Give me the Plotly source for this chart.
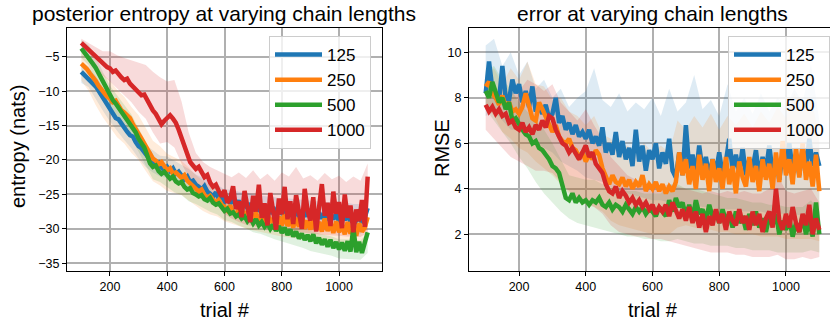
import plotly.graph_objects as go

# ---------------- data ----------------
trials = list(range(100, 1101, 10))          # 101 points
band_trials = list(range(100, 1101, 25))     # 41 points
chain_lengths = ["125", "250", "500", "1000"]
colors = ["#1f77b4", "#ff7f0e", "#2ca02c", "#d62728"]
band_colors = ["rgba(31,119,180,0.15)", "rgba(255,127,14,0.15)",
               "rgba(44,160,44,0.15)", "rgba(214,39,40,0.17)"]

# ---- entropy (left) ----
ent_125 = [-7.2,-7.6,-7.9,-8.4,-8.8,-9.3,-9.9,-10.6,-11.3,-12.0,
           -12.6,-13.3,-13.9,-14.1,-14.8,-15.3,-15.9,-16.4,-16.6,-17.4,
           -18.0,-18.3,-18.9,-19.4,-19.2,-20.1,-20.6,-20.4,-21.1,-21.5,
           -21.0,-21.6,-21.2,-22.0,-21.7,-22.3,-22.8,-22.4,-23.2,-23.0,
           -23.6,-23.9,-24.3,-23.8,-24.6,-24.9,-25.3,-24.7,-25.6,-25.2,
           -26.0,-25.4,-26.3,-25.7,-26.6,-25.9,-26.8,-26.1,-27.0,-26.3,
           -27.2,-26.4,-27.5,-26.6,-27.4,-26.7,-27.8,-26.9,-27.6,-26.8,
           -27.9,-27.0,-28.1,-27.1,-28.0,-27.2,-28.3,-27.3,-28.2,-27.4,
           -28.4,-27.5,-28.6,-27.6,-28.5,-27.7,-28.8,-27.8,-28.6,-27.9,
           -28.9,-27.9,-28.7,-28.0,-29.0,-28.1,-28.8,-28.2,-29.1,-28.3,-27.0]
ent_250 = [-6.0,-6.3,-6.8,-7.4,-7.9,-8.5,-9.2,-9.8,-10.3,-10.8,
           -11.1,-11.6,-11.4,-12.2,-12.8,-13.1,-13.5,-13.9,-14.8,-15.4,
           -16.2,-16.9,-17.6,-18.3,-19.1,-19.8,-20.1,-20.6,-20.3,-21.0,
           -21.5,-21.2,-22.0,-21.8,-22.3,-22.6,-22.2,-23.0,-23.4,-23.9,
           -24.2,-24.6,-24.3,-25.1,-25.5,-25.2,-25.9,-26.3,-25.8,-26.5,
           -26.8,-27.3,-26.6,-27.6,-27.9,-27.2,-28.2,-27.5,-28.6,-28.0,
           -28.8,-27.6,-29.0,-28.3,-29.2,-27.8,-29.1,-28.5,-29.4,-28.2,
           -29.5,-27.9,-29.6,-28.6,-29.8,-28.4,-29.7,-27.8,-30.0,-28.8,
           -30.1,-28.6,-30.2,-29.0,-30.4,-28.5,-30.3,-29.1,-30.6,-28.9,
           -30.5,-29.3,-30.8,-29.0,-30.7,-29.6,-31.0,-29.2,-30.4,-29.8,-28.3]
ent_500 = [-3.8,-4.3,-4.9,-5.5,-6.0,-6.6,-7.4,-8.3,-9.1,-9.9,
           -10.7,-11.3,-11.8,-12.4,-12.9,-13.5,-14.0,-14.6,-15.2,-16.0,
           -16.9,-17.6,-18.2,-19.3,-20.5,-21.0,-20.8,-21.6,-22.0,-21.7,
           -22.2,-22.7,-22.4,-23.1,-23.4,-23.2,-23.9,-24.3,-24.1,-24.8,
           -25.0,-25.3,-25.1,-25.7,-25.9,-25.5,-26.2,-26.5,-26.3,-27.0,
           -27.4,-27.1,-27.8,-27.6,-28.2,-27.9,-28.5,-28.2,-28.9,-28.4,
           -29.2,-28.6,-29.5,-29.0,-29.7,-29.2,-30.0,-29.4,-30.3,-29.6,
           -30.6,-29.8,-30.9,-30.1,-31.1,-30.4,-31.4,-30.7,-31.6,-30.9,
           -31.8,-30.8,-32.1,-31.3,-32.3,-31.5,-32.6,-31.6,-32.8,-31.9,
           -33.0,-32.0,-33.2,-31.8,-33.3,-29.8,-33.4,-31.9,-33.5,-32.0,-30.5]
ent_1000 = [-3.0,-3.4,-3.9,-4.3,-4.6,-5.0,-5.4,-5.9,-6.2,-6.5,
            -6.7,-7.2,-7.0,-7.6,-8.0,-8.4,-8.2,-8.9,-9.3,-9.7,
            -10.2,-10.6,-10.5,-11.3,-12.0,-12.8,-13.3,-14.1,-14.8,-14.3,
            -13.8,-13.5,-14.0,-14.6,-15.6,-16.8,-18.1,-19.2,-20.3,-20.8,
            -21.3,-21.0,-21.9,-22.5,-22.2,-23.3,-23.9,-23.6,-24.5,-25.3,
            -24.4,-26.2,-25.6,-23.8,-27.1,-26.0,-28.3,-24.5,-26.8,-29.0,
            -25.2,-27.5,-23.6,-28.4,-26.3,-29.5,-24.8,-27.2,-30.1,-25.6,
            -27.9,-23.9,-28.6,-26.0,-29.3,-25.1,-27.6,-30.0,-24.2,-27.3,
            -28.8,-25.4,-30.4,-26.7,-23.5,-28.1,-26.2,-29.6,-24.6,-27.8,
            -26.1,-29.9,-25.0,-28.4,-26.6,-30.5,-27.2,-28.9,-25.8,-29.7,-22.4]

ent_125_hi = [-5.8,-6.4,-7.8,-9.4,-11.0,-12.4,-13.6,-14.9,-16.4,-17.8,-18.6,-19.4,-19.5,-20.1,-20.8,-21.3,-22.1,-22.6,-23.3,-23.6,-24.3,-24.3,-24.6,-24.7,-25.0,-25.2,-25.3,-25.4,-25.6,-25.6,-25.7,-25.8,-26.0,-26.0,-26.1,-26.1,-26.3,-26.2,-26.4,-26.4,-25.6]
ent_125_lo = [-8.8,-9.4,-11.0,-12.8,-14.4,-15.8,-17.1,-18.3,-19.8,-21.0,-21.8,-22.4,-22.6,-23.2,-23.8,-24.3,-25.1,-25.7,-26.4,-26.7,-27.4,-27.6,-27.9,-28.2,-28.5,-28.7,-28.9,-29.1,-29.3,-29.4,-29.6,-29.7,-29.9,-30.0,-30.1,-30.2,-30.4,-30.5,-30.6,-30.7,-29.6]
ent_250_hi = [-4.0,-4.7,-6.1,-7.5,-8.5,-9.8,-10.8,-12.3,-13.5,-15.3,-17.2,-18.0,-19.1,-19.6,-20.1,-21.1,-22.2,-23.0,-23.7,-24.2,-25.0,-25.5,-25.9,-26.3,-26.6,-26.9,-27.1,-27.3,-27.5,-27.6,-27.8,-27.9,-28.1,-28.2,-28.3,-28.4,-28.6,-28.7,-28.8,-28.9,-27.6]
ent_250_lo = [-8.5,-9.9,-12.0,-13.8,-15.3,-16.7,-17.6,-19.0,-20.0,-21.6,-23.1,-23.7,-24.5,-24.8,-25.1,-25.9,-26.7,-27.4,-27.9,-28.2,-28.9,-29.3,-29.6,-30.0,-30.2,-30.5,-30.7,-30.9,-31.1,-31.2,-31.4,-31.5,-31.7,-31.8,-31.9,-32.0,-32.2,-32.3,-32.4,-32.5,-31.5]
ent_500_hi = [-2.6,-3.3,-4.9,-7.2,-9.2,-10.6,-12.0,-13.4,-15.4,-17.3,-19.5,-20.1,-20.8,-21.7,-22.2,-23.1,-23.6,-24.1,-24.8,-25.2,-26.0,-26.3,-26.8,-27.2,-27.8,-28.0,-28.4,-28.8,-29.2,-29.4,-29.7,-30.0,-30.4,-30.6,-30.9,-31.1,-31.5,-31.5,-31.6,-31.7,-30.6]
ent_500_lo = [-5.2,-6.2,-8.1,-10.6,-12.6,-14.0,-15.4,-16.8,-18.8,-20.7,-22.8,-23.2,-23.9,-24.7,-25.1,-26.0,-26.4,-26.9,-27.5,-27.9,-28.7,-29.0,-29.5,-29.9,-30.5,-30.7,-31.1,-31.5,-31.9,-32.2,-32.5,-32.8,-33.2,-33.4,-33.7,-33.9,-34.3,-34.3,-34.4,-34.5,-33.5]
ent_1000_hi = [-2.4,-3.0,-3.5,-4.2,-4.2,-4.8,-5.2,-5.5,-5.8,-6.2,-7.2,-8.0,-8.6,-8.4,-11.5,-16.0,-19.0,-20.3,-21.0,-21.5,-22.0,-22.5,-21.8,-22.6,-21.5,-22.8,-22.0,-23.0,-21.8,-22.4,-21.0,-22.7,-22.2,-23.0,-21.9,-22.8,-22.3,-23.2,-22.4,-23.0,-20.5]
ent_1000_lo = [-3.6,-4.6,-6.3,-7.7,-8.6,-9.5,-10.6,-11.6,-13.0,-14.0,-16.0,-17.6,-17.4,-18.2,-20.5,-22.5,-23.5,-24.2,-25.2,-26.5,-27.8,-28.5,-29.0,-29.4,-29.6,-29.8,-30.0,-30.2,-30.3,-30.4,-30.5,-30.6,-30.7,-30.8,-30.9,-31.0,-31.0,-31.1,-31.2,-31.2,-30.5]

# ---- RMSE (right) ----
rmse_125 = [8.2,9.6,8.4,8.0,7.9,9.4,8.0,7.9,8.8,8.2,
            8.6,7.8,8.3,7.6,8.5,7.4,7.6,7.3,7.7,7.1,
            7.3,8.0,6.9,7.2,6.6,6.9,6.4,6.8,6.3,6.5,
            6.2,6.6,6.0,6.3,5.9,6.7,5.6,6.0,5.5,6.5,
            5.4,6.1,5.3,5.8,5.0,6.6,5.2,5.9,4.8,5.7,
            5.3,6.0,4.9,5.6,5.1,6.2,4.8,4.5,5.6,4.6,
            6.8,4.9,5.5,4.6,5.9,4.8,5.4,4.5,5.3,4.7,
            5.6,4.6,5.2,6.2,4.8,5.5,4.7,5.8,4.6,5.3,
            4.9,5.7,4.5,5.4,4.8,5.9,4.7,5.3,4.4,5.6,
            4.9,6.0,4.8,5.5,4.6,5.8,4.9,6.2,5.0,5.6,5.0]
rmse_250 = [8.5,8.7,8.2,8.0,7.7,8.1,7.6,7.8,7.4,7.5,
            7.3,7.6,8.2,7.6,7.1,7.0,7.8,7.5,7.2,6.9,
            6.5,6.8,6.3,6.1,6.0,6.2,5.8,5.7,5.4,5.6,
            5.2,5.5,5.3,5.7,5.5,4.9,4.5,4.2,4.6,4.3,
            4.2,4.5,4.1,4.4,4.0,4.3,4.1,4.6,3.9,4.2,
            4.0,4.3,3.9,4.2,3.8,4.1,3.9,4.3,5.6,4.6,
            5.3,4.2,5.0,4.0,5.5,4.4,5.1,3.9,5.3,4.3,
            4.9,4.0,5.4,4.2,5.0,3.8,5.2,4.5,4.1,5.4,
            4.3,5.0,3.9,5.3,4.4,5.1,4.0,5.6,4.3,6.1,
            4.6,5.3,4.2,5.8,4.5,6.0,4.4,5.2,4.1,5.5,3.9]
rmse_500 = [8.3,8.0,8.7,8.2,7.8,8.0,7.5,7.8,7.0,7.1,
            6.8,6.6,6.4,6.3,6.0,6.1,5.8,5.7,5.5,5.3,
            5.0,4.9,4.7,4.1,3.6,3.5,3.8,3.4,3.6,3.4,
            3.5,3.3,3.5,3.4,3.6,3.3,3.2,3.4,3.1,3.3,
            3.2,3.0,3.3,3.1,2.9,3.2,3.0,3.2,2.9,3.1,
            3.0,2.8,3.2,3.0,2.8,3.5,3.0,3.6,3.2,3.4,
            2.8,3.3,2.7,3.5,2.9,3.1,2.6,3.3,2.8,3.0,
            2.5,3.1,2.6,2.9,2.3,3.0,2.5,2.8,2.2,2.9,
            2.4,3.0,2.3,2.7,2.1,2.8,2.4,2.9,2.0,2.6,
            2.2,2.7,1.9,2.5,2.1,2.8,2.0,2.6,1.9,3.4,2.0]
rmse_1000 = [7.7,7.4,7.6,7.3,7.5,7.2,7.3,6.9,7.0,6.7,
             6.6,6.9,6.5,6.7,6.4,6.8,6.6,7.0,6.7,7.2,
             7.1,6.6,6.3,6.0,5.9,5.6,5.8,5.5,5.3,5.6,
             5.9,5.4,5.6,5.1,4.9,4.7,4.2,3.9,3.8,4.1,
             3.6,3.9,3.7,3.4,3.6,3.3,3.5,3.2,3.4,3.1,
             3.3,2.9,3.2,3.0,3.3,2.8,3.4,3.0,2.7,3.1,
             2.6,3.2,2.5,3.0,2.3,2.9,2.1,2.8,2.4,3.1,
             2.5,2.9,2.2,3.0,2.6,2.4,3.1,2.5,2.8,2.2,
             3.0,2.4,2.9,2.1,2.7,3.0,2.3,4.0,2.6,2.2,
             2.9,2.3,3.2,2.5,2.1,2.9,2.4,3.3,2.0,2.7,2.2]

rmse_125_hi = [10.3,10.6,9.4,10.0,9.0,9.6,8.4,8.8,8.0,8.4,7.6,8.0,8.3,9.3,7.9,7.6,8.2,7.4,7.8,7.5,8.0,7.2,8.4,7.4,7.8,9.0,7.5,7.9,7.2,8.6,7.4,8.0,7.3,8.2,7.4,8.0,7.6,8.4,7.8,9.5,7.0]
rmse_125_lo = [7.2,7.4,7.0,6.6,6.6,6.4,6.1,5.8,5.6,5.2,5.0,4.8,4.5,4.4,4.3,4.1,3.9,3.8,3.7,3.6,3.5,3.5,3.4,3.4,3.3,3.3,3.2,3.2,3.1,3.1,3.1,3.0,3.0,3.0,2.9,2.9,2.9,2.9,2.8,2.8,2.8]
rmse_250_hi = [9.0,9.3,8.6,9.3,8.8,9.6,8.6,8.5,7.9,8.0,7.4,7.2,6.8,7.2,6.4,6.2,5.8,5.9,5.6,6.0,5.6,5.9,5.6,7.0,6.6,7.2,6.7,7.3,6.6,7.2,6.8,7.3,6.7,7.4,6.9,7.6,7.1,8.2,7.4,8.0,6.3]
rmse_250_lo = [7.6,7.2,6.5,6.2,5.8,5.6,5.2,4.9,4.6,4.2,3.8,3.5,3.3,3.2,3.0,2.6,2.4,2.3,2.2,2.1,2.0,2.0,2.0,2.3,2.4,2.3,2.2,2.2,2.1,2.1,2.0,2.0,2.0,1.9,1.9,1.9,1.8,1.8,1.8,1.8,1.7]
rmse_500_hi = [9.2,9.4,8.8,8.4,7.8,7.4,7.0,6.6,6.0,5.3,4.6,4.5,4.4,4.4,4.2,4.1,4.0,3.9,3.9,3.8,3.8,3.8,4.2,4.2,4.0,4.0,3.9,3.8,3.7,3.6,3.6,3.5,3.4,3.4,3.3,3.3,3.2,3.2,3.2,3.5,3.0]
rmse_500_lo = [7.5,7.0,6.5,6.0,5.4,4.9,4.3,3.8,3.4,3.0,2.7,2.5,2.4,2.3,2.2,2.1,2.0,1.9,1.9,1.8,1.8,1.7,1.7,1.8,1.7,1.6,1.6,1.5,1.5,1.5,1.4,1.4,1.3,1.3,1.3,1.2,1.2,1.2,1.2,1.3,1.2]
rmse_1000_hi = [8.3,8.2,8.4,8.2,8.3,8.8,8.6,8.3,8.6,7.8,7.4,7.0,7.5,6.8,6.2,5.4,5.0,4.6,4.4,4.3,4.2,4.1,4.2,4.1,4.0,3.9,3.8,3.9,3.8,3.9,3.8,3.9,3.8,3.8,4.0,4.6,3.9,3.8,3.9,4.0,3.4]
rmse_1000_lo = [6.6,6.2,5.8,5.4,5.2,5.0,4.8,4.8,4.7,4.3,3.9,3.6,3.4,3.2,2.9,2.4,2.1,2.0,1.9,1.9,1.8,1.8,1.7,1.6,1.5,1.4,1.3,1.2,1.2,1.2,1.1,1.1,1.0,1.0,1.0,1.1,0.9,0.9,1.0,0.9,1.0]

x_ticks = [200, 400, 600, 800, 1000]
ent_ticks = [-35, -30, -25, -20, -15, -10, -5]
ent_tick_labels = ["\u221235", "\u221230", "\u221225", "\u221220", "\u221215", "\u221210", "\u22125"]
rmse_ticks = [2, 4, 6, 8, 10]

ent_means = [ent_125, ent_250, ent_500, ent_1000]
ent_his = [ent_125_hi, ent_250_hi, ent_500_hi, ent_1000_hi]
ent_los = [ent_125_lo, ent_250_lo, ent_500_lo, ent_1000_lo]
rmse_means = [rmse_125, rmse_250, rmse_500, rmse_1000]
rmse_his = [rmse_125_hi, rmse_250_hi, rmse_500_hi, rmse_1000_hi]
rmse_los = [rmse_125_lo, rmse_250_lo, rmse_500_lo, rmse_1000_lo]

# ---------------- figure ----------------
FONT = "Liberation Sans, Arial, Helvetica, sans-serif"
fig = go.Figure()

def add_panel(means, his, los, xa, ya, legend_name):
    for i in range(4):
        fig.add_trace(go.Scatter(
            x=band_trials + band_trials[::-1], y=his[i] + los[i][::-1],
            fill="toself", fillcolor=band_colors[i], line=dict(width=0),
            mode="lines", hoverinfo="skip", showlegend=False,
            xaxis=xa, yaxis=ya))
    for i in range(4):
        fig.add_trace(go.Scatter(
            x=trials, y=means[i], mode="lines", name=chain_lengths[i],
            line=dict(color=colors[i], width=4.5),
            xaxis=xa, yaxis=ya, legend=legend_name))

add_panel(ent_means, ent_his, ent_los, "x", "y", "legend")
add_panel(rmse_means, rmse_his, rmse_los, "x2", "y2", "legend2")

W, H = 830, 323
yd = [1 - 270.5 / H, 1 - 28 / H]
axis_common = dict(showgrid=True, gridcolor="#b0b0b0", gridwidth=1.5,
                   zeroline=False, showline=True, linecolor="black", linewidth=1.3,
                   ticks="outside", ticklen=4, tickcolor="black", tickwidth=1,
                   tickfont=dict(family=FONT, size=12.5, color="black"))

legend_common = dict(bgcolor="rgba(255,255,255,0.8)", bordercolor="#cccccc", borderwidth=1,
                     font=dict(family=FONT, size=17, color="black"),
                     xanchor="left", yanchor="top", tracegroupgap=0, itemwidth=47)

def txt(text, x, y, size, angle=0):
    return dict(text=text, x=x / W, y=1 - y / H, xref="paper", yref="paper",
                showarrow=False, xanchor="center", yanchor="middle", textangle=angle,
                font=dict(family=FONT, size=size, color="black"))

fig.update_layout(
    width=W, height=H, margin=dict(l=0, r=0, t=0, b=0, autoexpand=False),
    paper_bgcolor="white", plot_bgcolor="white",
    font=dict(family=FONT, color="black"),
    xaxis=dict(domain=[67 / W, 382 / W], range=[50, 1150], tickvals=x_ticks, mirror=True,
               anchor="y", automargin=False, **axis_common),
    yaxis=dict(domain=yd, range=[-36.05, -0.83], tickvals=ent_ticks, ticktext=ent_tick_labels,
               mirror=True, anchor="x", automargin=False, **axis_common),
    xaxis2=dict(domain=[469 / W, 1.0], range=[50, 1132], tickvals=x_ticks, mirror=True,
                anchor="y2", automargin=False, **axis_common),
    yaxis2=dict(domain=yd, range=[0.41, 11.07], tickvals=rmse_ticks, mirror=False,
                anchor="x2", automargin=False, **axis_common),
    legend=dict(x=269 / W, y=1 - 36 / H, **legend_common),
    legend2=dict(x=728 / W, y=1 - 36 / H, **legend_common),
    annotations=[
        txt("posterior entropy at varying chain lengths", 224, 13, 21),
        txt("error at varying chain lengths", 652, 13, 21),
        txt("trial #", 225, 310, 20),
        txt("trial #", 653, 310, 20),
        txt("entropy (nats)", 18, 147, 20, -90),
        txt("RMSE", 442, 148, 20, -90),
    ],
)

fig.write_html("out.html", config={"displayModeBar": False},
               post_script="document.body.style.margin='0';document.body.style.padding='0';"
                           "document.body.style.overflow='hidden';")
